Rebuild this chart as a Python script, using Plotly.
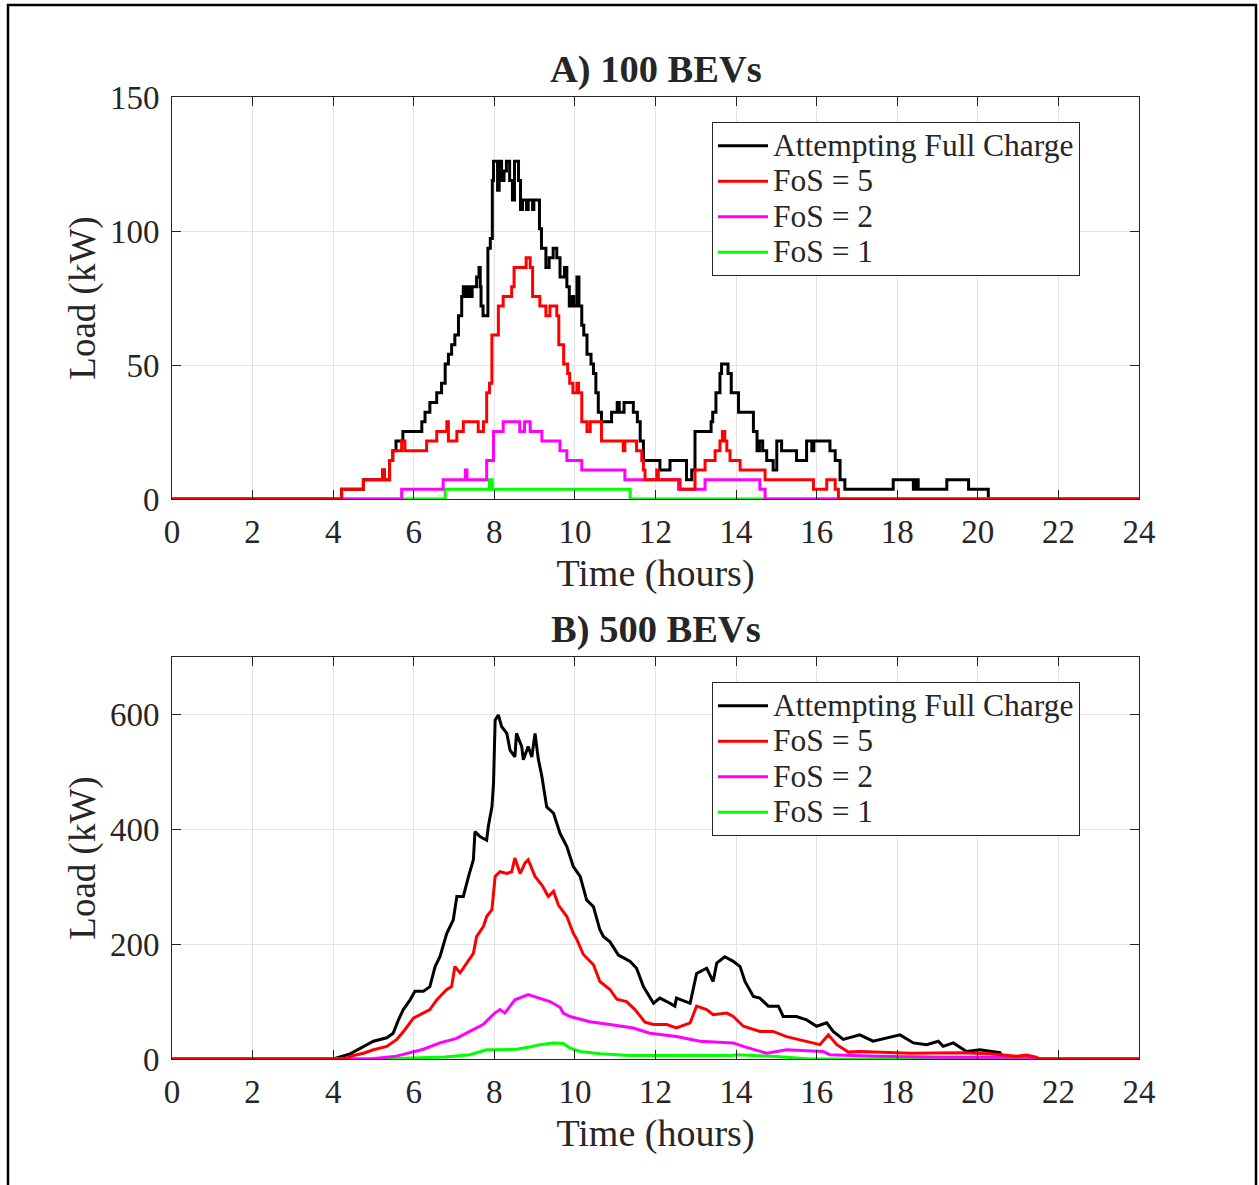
import plotly.graph_objects as go

# ---------------- Panel A: 100 BEVs (step data, hours / kW) ----------------
a_full_t = [0, 4.21, 4.75, 5.23, 5.27, 5.40, 5.48, 5.56, 5.73, 6.20, 6.28, 6.40, 6.57, 6.69, 6.78, 6.86,
            6.94, 7.02, 7.11, 7.19, 7.23, 7.28, 7.33, 7.40, 7.45, 7.56, 7.62, 7.65, 7.67, 7.72, 7.84, 7.90,
            7.95, 7.98, 8.08, 8.12, 8.18, 8.24, 8.30, 8.38, 8.45, 8.50, 8.60, 8.65, 8.70, 8.80, 8.84, 8.95,
            8.98, 9.12, 9.17, 9.28, 9.36, 9.46, 9.55, 9.63, 9.74, 9.80, 9.86, 9.92, 9.97, 10.05, 10.10, 10.17,
            10.22, 10.30, 10.40, 10.46, 10.52, 10.58, 10.66, 10.91, 11.05, 11.10, 11.22, 11.35, 11.45, 11.55,
            11.62, 11.70, 12.11, 12.36, 12.77, 12.90, 12.98, 13.38, 13.42, 13.50, 13.60, 13.64, 13.80, 13.88,
            14.06, 14.43, 14.52, 14.58, 14.66, 14.76, 14.92, 15.01, 15.13, 15.50, 15.75, 15.88, 15.93, 16.33,
            16.46, 16.58, 16.70, 17.90, 18.40, 18.45, 18.52, 19.23, 19.77, 20.26, 24]
a_full_v = [0, 3.6, 7.2, 10.8, 7.2, 14.4, 18, 21.6, 25.2, 28.8, 32.4, 36, 39.6, 43.2, 50.4, 54,
            57.6, 61.2, 68.4, 75.6, 79.2, 75.6, 79.2, 75.6, 79.2, 82.8, 86.4, 79.2, 72, 68.4, 93.6, 97.2,
            118.8, 126, 115.2, 126, 118.8, 122.4, 126, 118.8, 111.6, 126, 118.8, 108, 111.6, 108, 111.6, 108,
            111.6, 100.8, 93.6, 86.4, 90, 93.6, 90, 82.8, 86.4, 79.2, 72, 75.6, 72, 82.8, 72, 64.8,
            61.2, 54, 50.4, 46.8, 39.6, 32.4, 28.8, 32.4, 36, 32.4, 36, 36, 32.4, 28.8,
            21.6, 14.4, 10.8, 14.4, 7.2, 10.8, 25.2, 28.8, 32.4, 39.6, 46.8, 50.4, 46.8, 39.6,
            32.4, 25.2, 18, 21.6, 18, 14.4, 10.8, 21.6, 18, 14.4, 21.6, 18, 21.6, 18,
            14.4, 7.2, 3.6, 7.2, 3.6, 7.2, 3.6, 7.2, 3.6, 0, 0]

a_fos5_t = [0, 4.21, 4.75, 5.23, 5.27, 5.40, 5.48, 5.70, 5.78, 6.32, 6.57, 6.82, 6.86, 7.07, 7.23, 7.60,
            7.73, 7.81, 7.88, 7.94, 8.10, 8.22, 8.43, 8.49, 8.79, 8.89, 8.95, 9.13, 9.28, 9.38, 9.55, 9.60,
            9.72, 9.82, 9.87, 9.95, 10.05, 10.09, 10.17, 10.30, 10.38, 10.66, 11.20, 11.24, 11.53, 11.66,
            11.70, 11.74, 12.03, 12.07, 12.61, 12.98, 13.23, 13.48, 13.60, 13.66, 13.72, 13.77, 13.85, 14.10,
            14.72, 15.92, 16.25, 16.46, 16.54, 24]
a_fos5_v = [0, 3.6, 7.2, 10.8, 7.2, 14.4, 18, 21.6, 18, 21.6, 25.2, 28.8, 21.6, 25.2, 28.8, 25.2,
            28.8, 39.6, 43.2, 61.2, 72, 75.6, 79.2, 86.4, 90, 86.4, 75.6, 72, 68.4, 72, 68.4, 57.6,
            50.4, 46.8, 43.2, 39.6, 43.2, 39.6, 28.8, 25.2, 28.8, 21.6, 18, 21.6, 18, 14.4,
            10.8, 7.2, 10.8, 7.2, 3.6, 10.8, 14.4, 18, 21.6, 25.2, 21.6, 18, 14.4, 10.8,
            7.2, 3.6, 7.2, 3.6, 0, 0]

a_fos2_t = [0, 5.70, 6.73, 7.28, 7.32, 7.81, 7.98, 8.22, 8.63, 8.75, 8.89, 9.18, 9.63, 9.80, 10.17,
            11.24, 12.57, 13.23, 14.59, 14.72, 24]
a_fos2_v = [0, 3.6, 7.2, 10.8, 7.2, 14.4, 25.2, 28.8, 25.2, 28.8, 25.2, 21.6, 18, 14.4, 10.8,
            7.2, 3.6, 7.2, 3.6, 0, 0]

a_fos1_t = [0, 6.78, 7.88, 7.95, 11.37, 24]
a_fos1_v = [0, 3.6, 7.2, 3.6, 0, 0]

# ---------------- Panel B: 500 BEVs ----------------
b_full_t = [0, 4.0, 4.42, 4.75, 5.0, 5.33, 5.49, 5.62, 5.74, 5.91, 6.03, 6.24, 6.40, 6.53, 6.65, 6.82,
            6.98, 7.07, 7.23, 7.36, 7.48, 7.52, 7.65, 7.81, 7.85, 7.94, 7.98, 8.02, 8.10, 8.18, 8.31, 8.39,
            8.51, 8.55, 8.68, 8.72, 8.84, 8.93, 9.01, 9.09, 9.18, 9.30, 9.47, 9.63, 9.80, 9.96, 10.13, 10.29,
            10.46, 10.62, 10.71, 10.87, 11.08, 11.21, 11.37, 11.53, 11.70, 11.95, 12.11, 12.28, 12.48, 12.52,
            12.86, 13.02, 13.27, 13.43, 13.52, 13.72, 13.93, 14.10, 14.22, 14.43, 14.59, 14.80, 15.05, 15.17,
            15.50, 15.75, 16.0, 16.25, 16.41, 16.66, 17.07, 17.40, 17.74, 18.07, 18.40, 18.73, 19.02, 19.14,
            19.39, 19.72, 20.05, 20.30, 20.55, 20.65, 24]
b_full_v = [0, 0, 9, 22, 31, 37, 45, 68, 86, 103, 118, 118, 126, 161, 178, 219,
            242, 283, 283, 318, 347, 396, 387, 381, 405, 439, 480, 590, 599, 579, 567, 538,
            526, 567, 544, 521, 544, 526, 567, 523, 492, 439, 428, 393, 370, 335, 318, 277,
            265, 225, 213, 204, 181, 176, 170, 158, 126, 97, 106, 100, 92, 106,
            97, 149, 158, 135, 167, 178, 170, 161, 135, 109, 106, 92, 92, 74,
            74, 68, 57, 63, 48, 34, 42, 31, 36, 42, 28, 25, 31, 22,
            28, 13, 16, 13, 11, 0, 0]

b_fos5_t = [0, 4.25, 4.50, 4.75, 5.0, 5.33, 5.58, 5.78, 5.99, 6.16, 6.40, 6.57, 6.82, 6.94, 7.02, 7.15,
            7.31, 7.48, 7.56, 7.73, 7.81, 7.94, 8.02, 8.14, 8.31, 8.43, 8.51, 8.64, 8.76, 8.84, 9.01, 9.18,
            9.34, 9.47, 9.59, 9.80, 9.96, 10.05, 10.21, 10.46, 10.62, 10.79, 10.87, 11.04, 11.28, 11.49, 11.74,
            11.95, 12.28, 12.52, 12.86, 13.02, 13.27, 13.43, 13.77, 13.93, 14.18, 14.59, 14.92, 15.25, 15.75,
            16.08, 16.29, 16.50, 16.79, 17.07, 18.32, 19.14, 19.56, 20.30, 20.96, 21.20, 21.45, 21.54, 24]
b_fos5_v = [0, 0, 6, 10, 16, 22, 34, 51, 71, 77, 86, 103, 121, 126, 161, 150,
            167, 184, 213, 231, 248, 260, 318, 326, 323, 326, 350, 323, 341, 347, 318, 303,
            283, 292, 268, 248, 219, 208, 182, 164, 135, 126, 121, 104, 100, 86, 64,
            60, 60, 54, 63, 92, 86, 77, 80, 74, 57, 48, 48, 39, 31,
            25, 42, 25, 12, 13, 10, 10, 11, 9, 5, 7, 3, 0, 0]

b_fos2_t = [0, 4.91, 5.57, 5.99, 6.24, 6.65, 7.06, 7.39, 7.72, 8.01, 8.14, 8.26, 8.51, 8.84, 9.09, 9.38,
            9.63, 9.71, 9.88, 10.37, 10.87, 11.45, 11.86, 12.52, 13.10, 13.93, 14.18, 14.76, 15.25, 16.16,
            16.33, 17.49, 19.14, 21.20, 21.50, 24]
b_fos2_v = [0, 0, 5, 13, 17, 28, 36, 48, 60, 80, 86, 80, 103, 112, 106, 100,
            90, 80, 74, 65, 60, 54, 45, 39, 31, 28, 22, 10, 16, 13,
            7.5, 4.6, 3, 3, 0, 0]

b_fos1_t = [0, 5.04, 5.99, 6.77, 7.39, 7.81, 8.06, 8.55, 8.88, 9.13, 9.47, 9.71, 9.88, 10.13, 10.62,
            11.37, 13.90, 14.01, 14.92, 15.83, 24]
b_fos1_v = [0, 0, 1.7, 3.5, 7.5, 16, 16, 17, 21, 25, 28, 27, 19, 13, 9,
            6, 6, 7.5, 4.6, 0, 0]

series_names = ["Attempting Full Charge", "FoS = 5", "FoS = 2", "FoS = 1"]
series_colors = ["#000000", "#ff0000", "#ff00ff", "#00ff00"]

x_ticks = list(range(0, 25, 2))
a_yticks = [0, 50, 100, 150]
b_yticks = [0, 200, 400, 600]

panels = [
    dict(data=[(a_full_t, a_full_v), (a_fos5_t, a_fos5_v), (a_fos2_t, a_fos2_v), (a_fos1_t, a_fos1_v)],
         shape="hv", legend="legend", xa="x", ya="y"),
    dict(data=[(b_full_t, b_full_v), (b_fos5_t, b_fos5_v), (b_fos2_t, b_fos2_v), (b_fos1_t, b_fos1_v)],
         shape="linear", legend="legend2", xa="x2", ya="y2"),
]

fig = go.Figure()
# draw order: full, FoS1, FoS2, FoS5 (red on top); legend order full, 5, 2, 1
draw_order = [0, 3, 2, 1]
for p in panels:
    for i in draw_order:
        t, v = p["data"][i]
        fig.add_trace(go.Scatter(
            x=t, y=v, mode="lines",
            name='<span style="font-size:31.5px">' + series_names[i] + '</span>',
            line=dict(color=series_colors[i], width=3, shape=p["shape"]),
            legend=p["legend"], legendrank=i + 1, xaxis=p["xa"], yaxis=p["ya"],
            hoverinfo="skip"))

W, H = 1259, 1185
FONT = "Liberation Serif, Times New Roman, serif"
TXT = "#262626"
x_dom = [172 / W, 1139 / W]
a_dom = [1 - 499 / H, 1 - 97 / H]
b_dom = [1 - 1059 / H, 1 - 657 / H]

axis_common = dict(
    showline=True, linecolor="#262626", linewidth=1, mirror="ticks", automargin=False,
    ticks="inside", ticklen=9, tickcolor="#262626", tickwidth=1,
    showgrid=True, gridcolor="#e3e3e3", gridwidth=1, zeroline=False,
    tickfont=dict(family=FONT, size=33, color=TXT),
)

xa = dict(axis_common, range=[0, 24], tickvals=x_ticks, domain=x_dom, ticklabelstandoff=3,
          title=dict(text="Time (hours)", font=dict(family=FONT, size=38, color=TXT), standoff=10))

ya_title = dict(text="Load (kW)", font=dict(family=FONT, size=37, color=TXT), standoff=2)

legend_common = dict(xanchor="left", yanchor="top", bgcolor="white", bordercolor="#262626",
                     borderwidth=1, font=dict(family=FONT, size=25, color=TXT),
                     itemwidth=50, tracegroupgap=0)

fig.update_layout(
    width=W, height=H, margin=dict(l=0, r=0, t=0, b=0, autoexpand=False),
    paper_bgcolor="white", plot_bgcolor="white", showlegend=True,
    xaxis=dict(xa, anchor="y"),
    yaxis=dict(axis_common, range=[0, 150], tickvals=a_yticks, domain=a_dom, anchor="x",
               ticklabelstandoff=5, title=ya_title),
    xaxis2=dict(xa, anchor="y2"),
    yaxis2=dict(axis_common, range=[0, 700], tickvals=b_yticks, domain=b_dom, anchor="x2",
                ticklabelstandoff=5, title=ya_title),
    legend=dict(legend_common, x=712 / W, y=1 - 122 / H),
    legend2=dict(legend_common, x=712 / W, y=1 - 682 / H),
    annotations=[
        dict(text="<b>A) 100 BEVs</b>", x=655.5 / W, y=1 - 84 / H, xref="paper", yref="paper",
             xanchor="center", yanchor="bottom", yshift=-9, showarrow=False,
             font=dict(family=FONT, size=38.5, color=TXT)),
        dict(text="<b>B) 500 BEVs</b>", x=655.5 / W, y=1 - 644 / H, xref="paper", yref="paper",
             xanchor="center", yanchor="bottom", yshift=-9, showarrow=False,
             font=dict(family=FONT, size=38.5, color=TXT)),
    ],
    shapes=[dict(type="rect", xref="paper", yref="paper", x0=8 / W, x1=1256 / W,
                 y0=-0.05, y1=1 - 5 / H, line=dict(color="black", width=2.5), layer="above")],
)

fig.write_html("out.html", config={"displayModeBar": False},
               post_script="document.body.style.margin='0';document.body.style.overflow='hidden';")
